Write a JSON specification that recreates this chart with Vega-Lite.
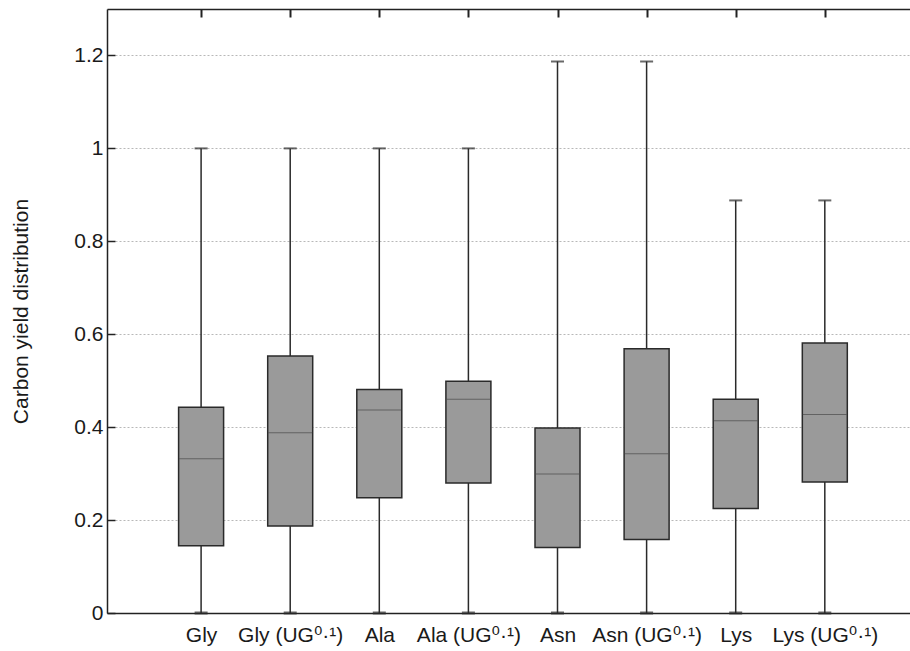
{
  "$schema": "https://vega.github.io/schema/vega-lite/v6.json",
  "width": 803,
  "height": 604,
  "autosize": "none",
  "padding": {"left": 107, "top": 9, "right": 0, "bottom": 38},
  "background": "white",
  "config": {
    "view": {"stroke": null},
    "font": "Liberation Sans",
    "axis": {"labelFont": "Liberation Sans, DejaVu Sans", "titleFont": "Liberation Sans", "labelColor": "#1a1a1a", "titleColor": "#1a1a1a", "domainColor": "#222222", "domainWidth": 1.5, "tickColor": "#222222", "tickWidth": 1.5}
  },
  "data": {
    "values": [
      {"idx": 1, "cat": "Gly", "lo": 0, "q1": 0.145, "med": 0.332, "q3": 0.443, "hi": 1.0},
      {"idx": 2, "cat": "Gly (UG0.1)", "lo": 0, "q1": 0.187, "med": 0.388, "q3": 0.553, "hi": 1.0},
      {"idx": 3, "cat": "Ala", "lo": 0, "q1": 0.248, "med": 0.437, "q3": 0.481, "hi": 1.0},
      {"idx": 4, "cat": "Ala (UG0.1)", "lo": 0, "q1": 0.280, "med": 0.460, "q3": 0.499, "hi": 1.0},
      {"idx": 5, "cat": "Asn", "lo": 0, "q1": 0.141, "med": 0.299, "q3": 0.398, "hi": 1.187},
      {"idx": 6, "cat": "Asn (UG0.1)", "lo": 0, "q1": 0.158, "med": 0.343, "q3": 0.569, "hi": 1.187},
      {"idx": 7, "cat": "Lys", "lo": 0, "q1": 0.225, "med": 0.414, "q3": 0.460, "hi": 0.888},
      {"idx": 8, "cat": "Lys (UG0.1)", "lo": 0, "q1": 0.282, "med": 0.427, "q3": 0.581, "hi": 0.888}
    ]
  },
  "resolve": {"axis": {"x": "independent"}},
  "layer": [
    {
      "mark": {"type": "rule", "color": "#2a2a2a", "strokeWidth": 1.5},
      "encoding": {
        "x": {"field": "idx", "type": "quantitative", "title": null, "scale": {"domain": [0, 8.9], "nice": false, "zero": false},
          "axis": {"orient": "bottom", "values": [1, 2, 3, 4, 5, 6, 7, 8], "ticks": false, "grid": false, "labelFontSize": 21, "labelPadding": 11,
            "labelExpr": "['', 'Gly', 'Gly (UG⁰·¹)', 'Ala', 'Ala (UG⁰·¹)', 'Asn', 'Asn (UG⁰·¹)', 'Lys', 'Lys (UG⁰·¹)'][datum.value]"}},
        "y": {"field": "lo", "type": "quantitative", "title": "Carbon yield distribution", "scale": {"domain": [0, 1.3], "nice": false},
          "axis": {"values": [0, 0.2, 0.4, 0.6, 0.8, 1, 1.2], "format": "~g", "labelFontSize": 21, "tickSize": -8, "labelPadding": 12,
            "grid": true, "gridColor": "#b8b8b8", "gridDash": [2, 2], "gridWidth": 1,
            "titleFontSize": 21, "titleFontWeight": "normal", "titlePadding": 42}},
        "y2": {"field": "hi"}
      }
    },
    {
      "mark": {"type": "tick", "orient": "horizontal", "size": 13, "thickness": 2, "color": "#2a2a2a"},
      "encoding": {
        "x": {"field": "idx", "type": "quantitative", "title": null, "axis": null},
        "y": {"field": "hi", "type": "quantitative", "title": "Carbon yield distribution"}
      }
    },
    {
      "mark": {"type": "tick", "orient": "horizontal", "size": 13, "thickness": 3, "color": "#2a2a2a"},
      "encoding": {
        "x": {"field": "idx", "type": "quantitative", "title": null, "axis": null},
        "y": {"field": "lo", "type": "quantitative", "title": "Carbon yield distribution"}
      }
    },
    {
      "mark": {"type": "bar", "size": 45, "fill": "#9a9a9a", "stroke": "#2a2a2a", "strokeWidth": 1.5},
      "encoding": {
        "x": {"field": "idx", "type": "quantitative", "title": null, "axis": null},
        "y": {"field": "q1", "type": "quantitative", "title": "Carbon yield distribution"},
        "y2": {"field": "q3"}
      }
    },
    {
      "mark": {"type": "tick", "orient": "horizontal", "size": 44, "thickness": 1, "color": "#4a4a4a"},
      "encoding": {
        "x": {"field": "idx", "type": "quantitative", "title": null, "axis": null},
        "y": {"field": "med", "type": "quantitative", "title": "Carbon yield distribution"}
      }
    },
    {
      "mark": {"type": "rule", "opacity": 0},
      "encoding": {
        "x": {"field": "idx", "type": "quantitative", "title": null,
          "axis": {"orient": "top", "values": [1, 2, 3, 4, 5, 6, 7, 8], "labels": false, "grid": false, "tickSize": -8, "tickWidth": 2}},
        "y": {"field": "med", "type": "quantitative", "title": "Carbon yield distribution"}
      }
    }
  ]
}
